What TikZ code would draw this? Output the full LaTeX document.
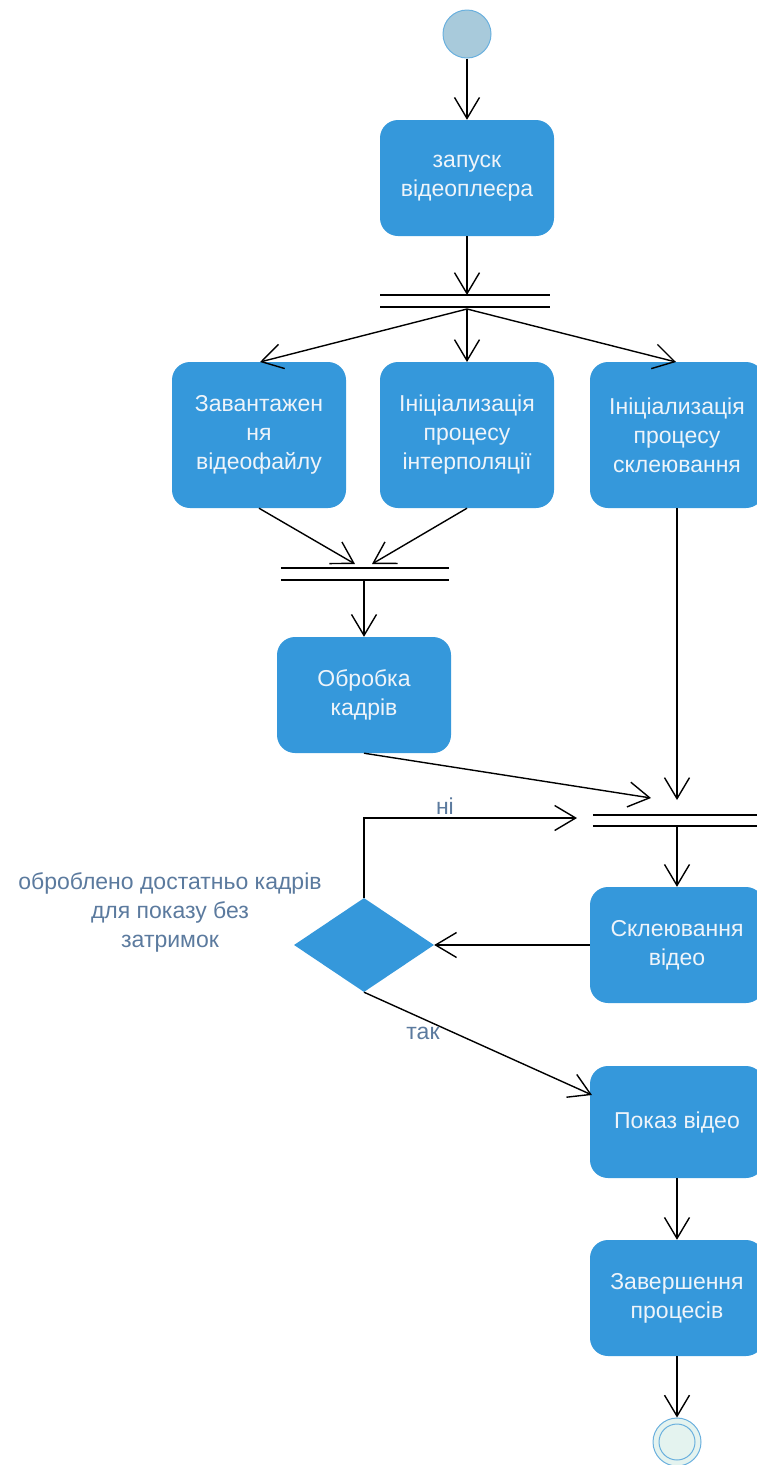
\documentclass[tikz,border=0pt]{standalone}
\usepackage{fontspec}
\setmainfont{Liberation Sans}
\usetikzlibrary{arrows.meta,shapes.geometric}
\definecolor{boxblue}{HTML}{3598DB}
\definecolor{boxtext}{HTML}{EEF4FA}
\definecolor{lbl}{HTML}{5B7A9E}
\definecolor{startfill}{HTML}{A8CADB}
\definecolor{startline}{HTML}{6AB0DE}
\definecolor{endfill}{HTML}{E4F3EF}
\tikzset{
  act/.style={rectangle, rounded corners=18pt, fill=boxblue, text=boxtext,
    minimum width=174pt, minimum height=116pt, align=center,
    font=\fontsize{23}{29}\selectfont, inner sep=0pt},
  flow/.style={draw=black, line width=1.4pt, -{Straight Barb[length=21pt,width=25pt,line width=1.4pt]}},
  barline/.style={draw=black, line width=1.6pt},
  lab/.style={text=lbl, font=\fontsize{23}{29}\selectfont, align=center}
}
\begin{document}
\begin{tikzpicture}[x=1pt,y=-1pt]
\useasboundingbox (0,0) rectangle (757,1465);
\begin{scope}
\clip (0,0) rectangle (757,1465);
% start
\node[circle, fill=startfill, draw=startline, line width=1pt, minimum size=48pt, inner sep=0pt] (start) at (467,34) {};
% activities
\node[act] (a1) at (467,178) {запуск\\відеоплеєра};
\node[act, minimum height=146pt] (a2) at (259,435) {Завантажен\\ня\\відеофайлу};
\node[act, minimum height=146pt] (a3) at (467,435) {Ініціализація\\процесу\\інтерполяції};
\node[act, minimum height=146pt] (a4) at (677,435) {Ініціализація\\процесу\\склеювання};
\node[act] (a5) at (364,695) {Обробка\\кадрів};
\node[act] (a6) at (677,945) {Склеювання\\відео};
\node[act, minimum height=112pt] (a7) at (677,1122) {Показ відео};
\node[act] (a8) at (677,1298) {Завершення\\процесів};
% bars
\node[minimum width=169pt, minimum height=12pt, inner sep=0pt] (b1) at (465,301) {};
\draw[barline] (b1.north west) -- (b1.north east) (b1.south west) -- (b1.south east);
\node[minimum width=168pt, minimum height=12pt, inner sep=0pt] (b2) at (365,574) {};
\draw[barline] (b2.north west) -- (b2.north east) (b2.south west) -- (b2.south east);
\node[minimum width=168pt, minimum height=11pt, inner sep=0pt] (b3) at (677,820.5) {};
\draw[barline] (b3.north west) -- (b3.north east) (b3.south west) -- (b3.south east);
% decision
\node[diamond, fill=boxblue, minimum width=140pt, minimum height=94pt, inner sep=0pt] (d) at (364,945) {};
% end
\node[circle, fill=endfill, draw=startline, line width=1pt, minimum size=48pt, inner sep=0pt] (end) at (677,1442) {};
\draw[startline, line width=1pt] (end.center) circle (18pt);
% edges
\draw[flow] (start.south) -- (a1.north);
\draw[flow] (a1.south) -- (467,295);
\coordinate (b1o) at (467,309);
\draw[flow] (b1o) -- (260,362);
\draw[flow] (b1o) -- (467,362);
\draw[flow] (b1o) -- (676,362);
\draw[flow] (a2.south) -- (355,564);
\draw[flow] (a3.south) -- (372,564);
\draw[flow] (364,580) -- (a5.north);
\coordinate (t5) at (651,798);
\draw[flow] (a5.south) -- (t5);
\draw[flow] (a4.south) -- (677,800);
\draw[flow] (677,826) -- (a6.north);
\draw[flow] (a6.west) -- (d.east);
\coordinate (nitip) at (577,818);
\draw[flow] (d.north) -- (364,818) -- node[lab, above, pos=0.38, yshift=-1pt] {ні} (nitip);
\draw[flow] (d.south) -- (592,1095);
\node[lab] (tak) at (423,1033) {так};
\draw[flow] (a7.south) -- (a8.north);
\draw[flow] (a8.south) -- (end.north);
\node[lab] (q) at (170,912) {оброблено достатньо кадрів\\для показу без\\затримок};
\end{scope}
\end{tikzpicture}
\end{document}
